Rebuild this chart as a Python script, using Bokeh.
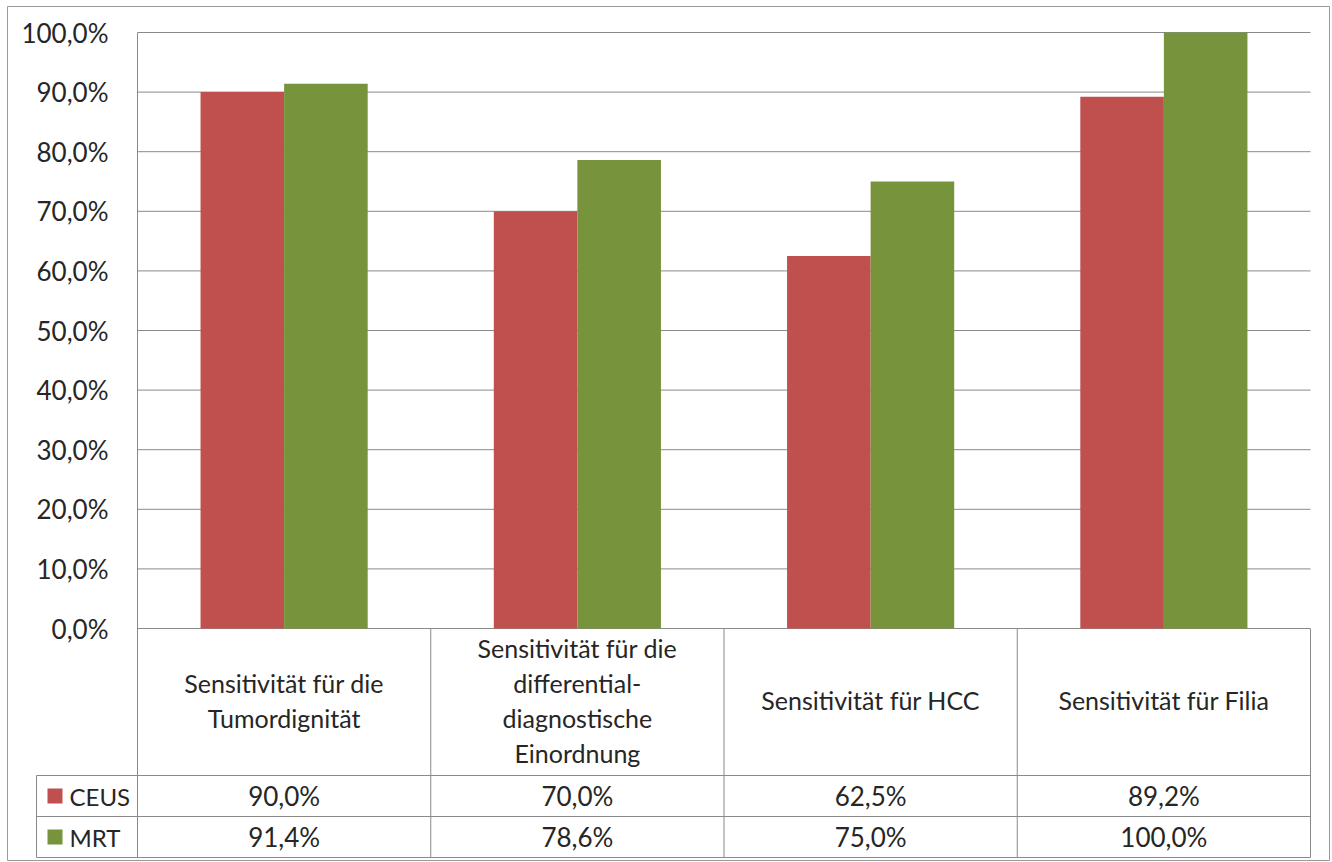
import numpy as np
from bokeh.plotting import figure
from bokeh.models import Range1d, FixedTicker, CustomJSTickFormatter, LinearAxis
from bokeh.core.properties import value
from bokeh.embed import file_html
from bokeh.resources import INLINE

# ---------------- data ----------------
categories = [
    "Sensitivität für die\nTumordignität",
    "Sensitivität für die\ndifferential-\ndiagnostische\nEinordnung",
    "Sensitivität für HCC",
    "Sensitivität für Filia",
]
series_names = ["CEUS", "MRT"]
ceus = [90.0, 70.0, 62.5, 89.2]
mrt = [91.4, 78.6, 75.0, 100.0]
y_ticks = [0, 10, 20, 30, 40, 50, 60, 70, 80, 90, 100]

# ---------------- style / layout ----------------
RED = "#C0504D"
GREEN = "#77933C"
GRID = "#8a8a8a"
BORDER = "#9a9a9a"
TXT = "#262626"
FONT = "Lato"

W, H = 1332, 862
FL, FR, FT, FB = 7, 1329, 6, 860        # frame edges (outer border) in pixels
X0, Y0 = 137, 628                        # chart origin in pixels
PX = (1310 - X0) / 4.0                   # pixels per category
PXY = (Y0 - 32) / 100.0                  # pixels per percent
BAR_W = 0.285

HEADER_H, ROW_H = 147, 41                # data-table row heights (pixels)
LEG_LEFT = 101                           # legend column width (pixels)

def px_to_y(dy):                          # dy pixels below the 0 line
    return -dy / PXY

idx = np.arange(len(categories))

def fmt(v):
    return f"{v:.1f}".replace(".", ",") + "%"

p = figure(width=W, height=H,
           x_range=Range1d((FL - X0) / PX, (FR - X0) / PX),
           y_range=Range1d(px_to_y(FB - Y0), (Y0 - FT) / PXY),
           output_backend="svg", toolbar_location=None,
           x_axis_location=None, y_axis_location=None,
           min_border_left=FL, min_border_right=W - FR,
           min_border_top=FT, min_border_bottom=H - FB)
p.outline_line_color = BORDER
p.outline_line_width = 1
p.xgrid.visible = False
p.ygrid.visible = False
p.background_fill_color = "white"
p.border_fill_color = "white"

y_row1 = px_to_y(HEADER_H)
y_row2 = px_to_y(HEADER_H + ROW_H)
y_bot = px_to_y(HEADER_H + 2 * ROW_H)
x_leg = -LEG_LEFT / PX

# gridlines
p.segment(x0=[0] * len(y_ticks), x1=[4] * len(y_ticks), y0=y_ticks, y1=y_ticks,
          line_color=GRID, line_width=1)

# bars
p.vbar(x=idx + 0.5 - BAR_W / 2, top=ceus, width=BAR_W, fill_color=RED, line_color=None)
p.vbar(x=idx + 0.5 + BAR_W / 2, top=mrt, width=BAR_W, fill_color=GREEN, line_color=None)

# y axis drawn at the chart origin
ax = LinearAxis(fixed_location=0)
ax.ticker = FixedTicker(ticks=y_ticks)
ax.formatter = CustomJSTickFormatter(code="return tick.toFixed(1).replace('.', ',') + '%';")
ax.major_label_text_font = FONT
ax.major_label_text_font_size = "26px"
ax.major_label_text_color = TXT
ax.axis_line_color = None
ax.major_tick_line_color = None
ax.minor_tick_line_color = None
ax.major_tick_out = 0
ax.major_label_standoff = 29
p.add_layout(ax, "left")

# data table lines
p.segment(x0=[x_leg] * 3, x1=[4] * 3, y0=[y_row1, y_row2, y_bot], y1=[y_row1, y_row2, y_bot],
          line_color=GRID, line_width=1)
p.segment(x0=[0], x1=[0], y0=[y_bot], y1=[100], line_color=GRID, line_width=1)
p.segment(x0=[1, 2, 3, 4], x1=[1, 2, 3, 4], y0=[y_bot] * 4, y1=[0] * 4,
          line_color=GRID, line_width=1)
p.segment(x0=[x_leg], x1=[x_leg], y0=[y_bot], y1=[y_row1], line_color=GRID, line_width=1)

# header texts
p.text(x=idx + 0.5, y=[y_row1 / 2 + 0.3] * 4, text=categories,
       text_align="center", text_baseline="middle",
       text_font=value(FONT), text_font_size="25px", text_line_height=1.17,
       text_color=TXT)

row_y = [(y_row1 + y_row2) / 2, (y_row2 + y_bot) / 2]
p.text(x=idx + 0.5, y=[row_y[0]] * 4, text=[fmt(v) for v in ceus],
       text_align="center", text_baseline="middle",
       text_font=value(FONT), text_font_size="26px", text_color=TXT)
p.text(x=idx + 0.5, y=[row_y[1]] * 4, text=[fmt(v) for v in mrt],
       text_align="center", text_baseline="middle",
       text_font=value(FONT), text_font_size="26px", text_color=TXT)

# legend keys
p.scatter(x=[(54.5 - X0) / PX] * 2, y=row_y, marker="square", size=15,
          fill_color=[RED, GREEN], line_color=None)
p.text(x=[(69 - X0) / PX] * 2, y=row_y, text=series_names,
       text_align="left", text_baseline="middle",
       text_font=value(FONT), text_font_size="24px", text_color=TXT)

open("out.html", "w").write(file_html(p, INLINE))
